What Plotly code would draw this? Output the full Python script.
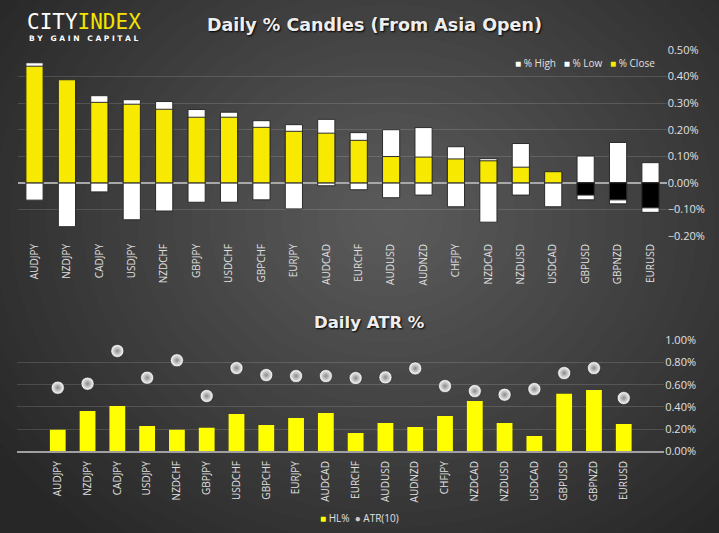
import plotly.graph_objects as go

# ---------------- data ----------------
pairs = ["AUDJPY", "NZDJPY", "CADJPY", "USDJPY", "NZDCHF", "GBPJPY", "USDCHF",
         "GBPCHF", "EURJPY", "AUDCAD", "EURCHF", "AUDUSD", "AUDNZD", "CHFJPY",
         "NZDCAD", "NZDUSD", "USDCAD", "GBPUSD", "GBPNZD", "EURUSD"]
high_pct = [0.452, 0.388, 0.328, 0.313, 0.306, 0.276, 0.266, 0.234, 0.219, 0.239,
            0.189, 0.200, 0.208, 0.136, 0.091, 0.148, 0.042, 0.101, 0.152, 0.076]
low_pct = [-0.065, -0.165, -0.034, -0.139, -0.106, -0.073, -0.073, -0.064, -0.098, -0.011,
           -0.026, -0.056, -0.046, -0.090, -0.148, -0.046, -0.090, -0.064, -0.079, -0.111]
close_pct = [0.439, 0.388, 0.303, 0.296, 0.277, 0.247, 0.247, 0.209, 0.194, 0.187,
             0.160, 0.099, 0.097, 0.090, 0.083, 0.059, 0.042, -0.046, -0.064, -0.094]
hl_pct = [0.195, 0.363, 0.408, 0.228, 0.195, 0.213, 0.336, 0.237, 0.300, 0.345,
          0.165, 0.255, 0.219, 0.318, 0.453, 0.255, 0.138, 0.519, 0.552, 0.246]
atr10_pct = [0.573, 0.609, 0.904, 0.663, 0.820, 0.498, 0.750, 0.687, 0.678, 0.678,
             0.660, 0.666, 0.747, 0.588, 0.543, 0.510, 0.561, 0.705, 0.750, 0.480]

W, H = 719, 533
YELLOW = "#f7ea00"
TXT = "#e0e0e0"
FONT = "Open Sans"

def px_x(p):
    return p / W

def px_y(p):
    return 1 - p / H

fig = go.Figure()

bw = 0.53
edge = dict(color="#2b2b2b", width=1)
fig.add_trace(go.Bar(x=pairs, y=high_pct, name="% High", width=bw,
                     marker=dict(color="#ffffff", line=edge), xaxis="x", yaxis="y"))
fig.add_trace(go.Bar(x=pairs, y=low_pct, name="% Low", width=bw,
                     marker=dict(color="#ffffff", line=edge), xaxis="x", yaxis="y"))
fig.add_trace(go.Bar(x=pairs, y=close_pct, name="% Close", width=bw,
                     marker=dict(color=[YELLOW if v >= 0 else "#000000" for v in close_pct],
                                 line=edge), xaxis="x", yaxis="y"))

fig.add_trace(go.Bar(x=pairs, y=hl_pct, name="HL%", width=bw,
                     marker=dict(color="#ffff00", line=dict(width=0)),
                     xaxis="x2", yaxis="y2"))
fig.add_trace(go.Scatter(x=pairs, y=atr10_pct, name="ATR(10)", mode="markers",
                         marker=dict(size=13, color="#ffffff",
                                     gradient=dict(type="radial", color="#8a8a8a"),
                                     line=dict(color="rgba(30,30,30,0.6)", width=1)),
                         xaxis="x2", yaxis="y2"))

# background radial gradient
shapes = []
cx, cy = 390, 220
N = 26
for i in range(N, 0, -1):
    rx = 470 * i / N
    ry = 400 * i / N
    shapes.append(dict(type="circle", xref="paper", yref="paper", layer="below",
                       x0=px_x(cx - rx), x1=px_x(cx + rx),
                       y0=px_y(cy + ry), y1=px_y(cy - ry),
                       fillcolor="rgba(255,255,255,0.0115)", line=dict(width=0)))

grid = "rgba(255,255,255,0.14)"
tickf = dict(family=FONT, size=10, color=TXT)
ytickf = dict(family=FONT, size=11, color=TXT)

ann = []
# logo
ann.append(dict(xref="paper", yref="paper", x=px_x(25), y=px_y(22), xanchor="left",
                yanchor="middle", showarrow=False,
                text="<span style='color:#ffffff'>CITY</span><span style='color:#f2e400'>INDEX</span>",
                font=dict(family="DejaVu Sans Mono", size=21)))
ann.append(dict(xref="paper", yref="paper", x=px_x(27), y=px_y(38.5), xanchor="left",
                yanchor="middle", showarrow=False,
                text="<b>B Y   G A I N   C A P I T A L</b>",
                font=dict(family="DejaVu Sans", size=7.5, color="#ffffff")))
# titles
ann.append(dict(xref="paper", yref="paper", x=px_x(374), y=px_y(25), xanchor="center",
                yanchor="middle", showarrow=False,
                text="<b>Daily % Candles (From Asia Open)</b>",
                font=dict(family="DejaVu Sans", size=17.5, color="#eeeeee",
                          shadow="1px 1px 2px #000")))
ann.append(dict(xref="paper", yref="paper", x=px_x(369), y=px_y(322), xanchor="center",
                yanchor="middle", showarrow=False,
                text="<b>Daily ATR %</b>",
                font=dict(family="DejaVu Sans", size=16.5, color="#eeeeee",
                          shadow="1px 1px 2px #000")))
# legends
ann.append(dict(xref="paper", yref="paper", x=px_x(657), y=px_y(63), xanchor="right",
                yanchor="middle", showarrow=False,
                text="<span style='color:#ffffff'>■</span> % High   "
                     "<span style='color:#ffffff'>■</span> % Low   "
                     f"<span style='color:{YELLOW}'>■</span> % Close",
                font=dict(family=FONT, size=10, color=TXT)))
ann.append(dict(xref="paper", yref="paper", x=px_x(359), y=px_y(518), xanchor="center",
                yanchor="middle", showarrow=False,
                text="<span style='color:#ffff00'>■</span> HL%  "
                     "<span style='color:#cccccc'>●</span> ATR(10)",
                font=dict(family=FONT, size=10, color=TXT)))

fig.update_layout(
    template="none",
    width=W, height=H, autosize=False,
    margin=dict(l=0, r=0, t=0, b=0, pad=0),
    paper_bgcolor="#272727", plot_bgcolor="rgba(0,0,0,0)",
    barmode="overlay", showlegend=False,
    shapes=shapes, annotations=ann,
    xaxis=dict(domain=[px_x(18.3), px_x(666.7)], anchor="y", showgrid=False,
               tickangle=-90, tickfont=tickf, ticks="", zeroline=False,
               showline=False, fixedrange=True, automargin=False,
               ticklabelstandoff=5),
    yaxis=dict(domain=[px_y(236), px_y(50)], range=[-0.2, 0.5], dtick=0.1,
               side="right", anchor="x", tickformat=".2f", ticksuffix="%",
               showgrid=True, gridcolor=grid, gridwidth=1,
               zeroline=True, zerolinecolor="#a8a8a8", zerolinewidth=1.5,
               tickfont=ytickf, ticks="", showline=False, automargin=False),
    xaxis2=dict(domain=[px_x(17.3), px_x(664.2)], anchor="y2", showgrid=False,
                tickangle=-90, tickfont=tickf, ticks="", zeroline=False,
                showline=True, linecolor="#a0a0a0", linewidth=1.5, automargin=False,
                ticklabelstandoff=4),
    yaxis2=dict(domain=[px_y(451.3), px_y(340.3)], range=[0, 1.0], dtick=0.2,
                side="right", anchor="x2", tickformat=".2f", ticksuffix="%",
                showgrid=True, gridcolor=grid, gridwidth=1, zeroline=False,
                tickfont=ytickf, ticks="", showline=False, automargin=False),
)

fig.write_html("out.html")
